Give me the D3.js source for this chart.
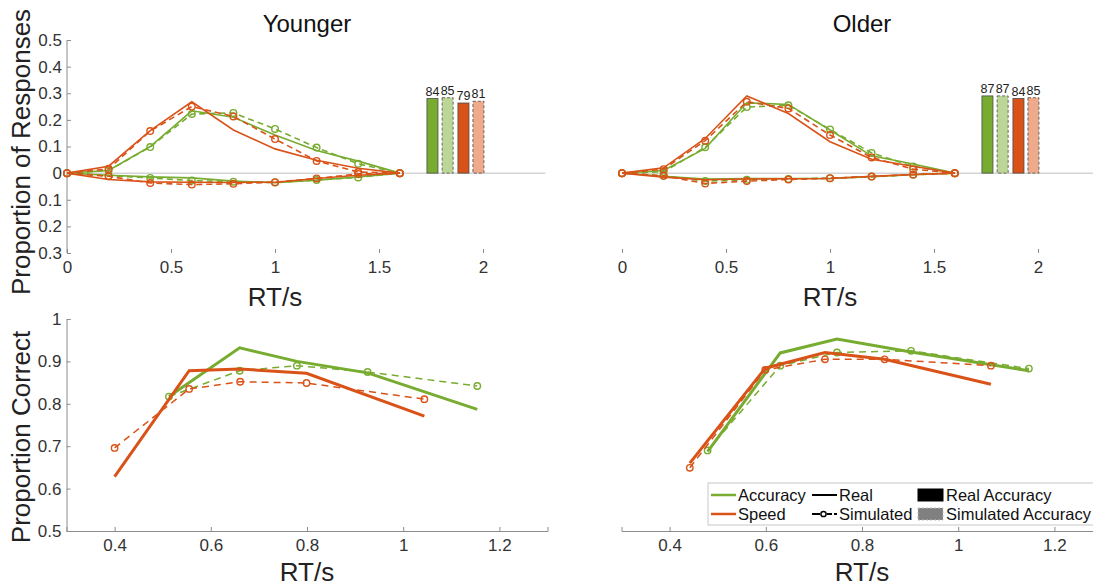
<!DOCTYPE html>
<html><head><meta charset="utf-8">
<script src="https://cdn.jsdelivr.net/npm/d3@7"></script>
<style>body{margin:0;background:#fff}svg{display:block}text{font-family:"Liberation Sans",Arial,sans-serif}</style>
</head><body><svg id="c" width="1093" height="586"></svg>
<script>
// ---------- DATA ----------
const groups = ["Younger", "Older"];
const rtBins = [0, 0.2, 0.4, 0.6, 0.8, 1.0, 1.2, 1.4, 1.6];
// Younger: RT distributions (correct positive, error negative)
const yAccRealCorr = [0, 0.01, 0.10, 0.234, 0.21, 0.143, 0.085, 0.045, 0];
const yAccSimCorr  = [0, 0.01, 0.098, 0.222, 0.226, 0.166, 0.096, 0.035, 0];
const ySpdRealCorr = [0, 0.026, 0.16, 0.268, 0.162, 0.091, 0.048, 0.018, 0];
const ySpdSimCorr  = [0, 0.016, 0.158, 0.25, 0.213, 0.128, 0.046, 0.004, 0];
const yAccRealErr  = [0, -0.008, -0.014, -0.018, -0.03, -0.036, -0.027, -0.014, 0];
const yAccSimErr   = [0, -0.01, -0.018, -0.028, -0.032, -0.035, -0.026, -0.016, 0];
const ySpdRealErr  = [0, -0.024, -0.033, -0.034, -0.035, -0.034, -0.02, -0.008, 0];
const ySpdSimErr   = [0, -0.012, -0.037, -0.043, -0.04, -0.034, -0.02, -0.003, 0];
// Older
const oAccRealCorr = [0, 0.01, 0.093, 0.264, 0.258, 0.162, 0.065, 0.034, 0];
const oAccSimCorr  = [0, 0.005, 0.097, 0.248, 0.255, 0.164, 0.076, 0.025, 0];
const oSpdRealCorr = [0, 0.02, 0.13, 0.29, 0.224, 0.118, 0.052, 0.026, 0];
const oSpdSimCorr  = [0, 0.015, 0.122, 0.268, 0.243, 0.143, 0.059, 0.015, 0];
const oAccRealErr  = [0, -0.012, -0.022, -0.02, -0.02, -0.02, -0.013, -0.006, 0];
const oAccSimErr   = [0, -0.01, -0.03, -0.025, -0.022, -0.019, -0.013, -0.006, 0];
const oSpdRealErr  = [0, -0.015, -0.025, -0.022, -0.021, -0.02, -0.012, -0.005, 0];
const oSpdSimErr   = [0, -0.01, -0.039, -0.03, -0.024, -0.019, -0.013, -0.005, 0];
// Accuracy bars (%): Real Acc, Sim Acc, Real Speed, Sim Speed
const barLabels = ["Accuracy real", "Accuracy simulated", "Speed real", "Speed simulated"];
const yBarPct = [84, 85, 79, 81];
const oBarPct = [87, 87, 84, 85];
// Conditional accuracy functions
const yAccCafX    = [0.513, 0.660, 0.779, 0.926, 1.154];
const yAccCafReal = [0.817, 0.932, 0.90, 0.873, 0.787];
const yAccCafSim  = [0.817, 0.878, 0.89, 0.875, 0.842];
const ySpdCafX    = [0.40, 0.555, 0.661, 0.799, 1.044];
const ySpdCafReal = [0.628, 0.878, 0.882, 0.872, 0.771];
const ySpdCafSim  = [0.696, 0.835, 0.852, 0.849, 0.811];
const oAccCafX    = [0.479, 0.63, 0.748, 0.902, 1.147];
const oAccCafReal = [0.687, 0.92, 0.953, 0.922, 0.878];
const oAccCafSim  = [0.69, 0.89, 0.921, 0.925, 0.883];
const oSpdCafX    = [0.442, 0.599, 0.723, 0.847, 1.068];
const oSpdCafReal = [0.66, 0.884, 0.921, 0.905, 0.846];
const oSpdCafSim  = [0.649, 0.88, 0.905, 0.905, 0.89];
const topXTicks = [0, 0.5, 1, 1.5, 2];
const topYTicks = [-0.3, -0.2, -0.1, 0, 0.1, 0.2, 0.3, 0.4, 0.5];
const botXTicks = [0.4, 0.6, 0.8, 1.0, 1.2];
const botYTicks = [0.5, 0.6, 0.7, 0.8, 0.9, 1.0];

// ---------- STYLE ----------
const GREEN = "#77AC30", ORANGE = "#D95319", LGREEN = "#bcd697", LORANGE = "#eeab8c";
const AX = "#8c8c8c", TXT = "#333";
const svg = d3.select("#c");

const topData = [
  {acc:[yAccRealCorr,yAccSimCorr,yAccRealErr,yAccSimErr], spd:[ySpdRealCorr,ySpdSimCorr,ySpdRealErr,ySpdSimErr], bars:yBarPct},
  {acc:[oAccRealCorr,oAccSimCorr,oAccRealErr,oAccSimErr], spd:[oSpdRealCorr,oSpdSimCorr,oSpdRealErr,oSpdSimErr], bars:oBarPct}
];
const botData = [
  {acc:[yAccCafX,yAccCafReal,yAccCafSim], spd:[ySpdCafX,ySpdCafReal,ySpdCafSim]},
  {acc:[oAccCafX,oAccCafReal,oAccCafSim], spd:[oSpdCafX,oSpdCafReal,oSpdCafSim]}
];
const panelLeft = [67, 622];

function styleAxis(g){
  g.selectAll(".domain").attr("stroke", AX).attr("stroke-width", 1);
  g.selectAll(".tick line").attr("stroke", AX);
  g.selectAll(".tick text").attr("fill", TXT).style("font-size", "17px").style("font-family", "Liberation Sans, Arial, sans-serif");
}

groups.forEach((name, gi) => {
  const L = panelLeft[gi];
  // ----- top panel -----
  const x = d3.scaleLinear().domain([0, 2.3]).range([L, L + 2.3 * 208]);
  const y = d3.scaleLinear().domain([-0.3, 0.5]).range([253, 40]);
  const T = topData[gi];
  svg.append("line").attr("x1", x(0)).attr("x2", x(2.3)).attr("y1", y(0)).attr("y2", y(0))
    .attr("stroke", "#d4d4d4").attr("stroke-width", 1.5);
  const gx = svg.append("g").attr("transform", `translate(0,${y(-0.3)})`)
    .call(d3.axisBottom(x).tickValues(topXTicks).tickSize(-4).tickPadding(8).tickFormat(d3.format("")));
  gx.select(".domain").remove();
  styleAxis(gx);
  if (gi === 0) {
    const gy = svg.append("g").attr("transform", `translate(${x(0)},0)`)
      .call(d3.axisLeft(y).tickValues(topYTicks).tickSize(-4).tickPadding(5)
        .tickFormat(d => d === 0 ? "0" : Math.abs(d).toFixed(1)));
    gy.select(".domain").attr("d", `M0,${y(-0.3)}V${y(0.5)}`);
    styleAxis(gy);
  }
  const barX = [1.757, 1.83, 1.906, 1.978];
  const barW = 0.053;
  const fills = [GREEN, LGREEN, ORANGE, LORANGE];
  T.bars.forEach((v, i) => {
    const val = v / 300;
    svg.append("rect").attr("x", x(barX[i] - barW / 2)).attr("width", x(barW) - x(0))
      .attr("y", y(val)).attr("height", y(0) - y(val))
      .attr("fill", fills[i]).attr("stroke", "#4a4a4a").attr("stroke-width", 0.8)
      .attr("stroke-dasharray", i % 2 ? "3,2" : null);
    svg.append("text").attr("x", x(barX[i])).attr("y", y(val) - 3).attr("text-anchor", "middle")
      .attr("fill", "#222").style("font-size", "12.5px").text(v);
  });
  const line = d3.line().x((d, i) => x(rtBins[i])).y(d => y(d));
  [[T.acc, GREEN], [T.spd, ORANGE]].forEach(([arrs, col]) => {
    [0, 2].forEach(k => {
      svg.append("path").attr("d", line(arrs[k])).attr("fill", "none").attr("stroke", col).attr("stroke-width", 1.6);
    });
    [1, 3].forEach(k => {
      svg.append("path").attr("d", line(arrs[k])).attr("fill", "none").attr("stroke", col)
        .attr("stroke-width", 1.6).attr("stroke-dasharray", "6,4");
      svg.selectAll(null).data(arrs[k]).enter().append("circle")
        .attr("cx", (d, i) => x(rtBins[i])).attr("cy", d => y(d)).attr("r", 3.3)
        .attr("fill", "none").attr("stroke", col).attr("stroke-width", 1.4);
    });
  });
  svg.append("text").attr("x", (gi === 0 ? 307 : 862)).attr("y", 32).attr("text-anchor", "middle")
    .attr("fill", "#111").style("font-size", "24px").text(name);
  svg.append("text").attr("x", x(1)).attr("y", 306).attr("text-anchor", "middle")
    .attr("fill", "#222").style("font-size", "26px").text("RT/s");

  // ----- bottom panel -----
  const bx = d3.scaleLinear().domain([0.3, 1.3]).range([L - 0.5, L - 0.5 + 481]);
  const by = d3.scaleLinear().domain([0.5, 1]).range([531, 319]);
  const B = botData[gi];
  const gbx = svg.append("g").attr("transform", `translate(0,${by(0.5)})`)
    .call(d3.axisBottom(bx).tickValues(botXTicks).tickSize(-4).tickPadding(8).tickFormat(d3.format("")));
  styleAxis(gbx);
  if (gi === 0) {
    const gby = svg.append("g").attr("transform", `translate(${bx(0.3)},0)`)
      .call(d3.axisLeft(by).tickValues(botYTicks).tickSize(-4).tickPadding(5).tickFormat(d3.format("")));
    styleAxis(gby);
  }
  const bline = xs => d3.line().x((d, i) => bx(xs[i])).y(d => by(d));
  [[B.acc, GREEN], [B.spd, ORANGE]].forEach(([a, col]) => {
    svg.append("path").attr("d", bline(a[0])(a[1])).attr("fill", "none").attr("stroke", col).attr("stroke-width", 3);
    svg.append("path").attr("d", bline(a[0])(a[2])).attr("fill", "none").attr("stroke", col)
      .attr("stroke-width", 1.5).attr("stroke-dasharray", "7,5");
    svg.selectAll(null).data(a[2]).enter().append("circle")
      .attr("cx", (d, i) => bx(a[0][i])).attr("cy", d => by(d)).attr("r", 3.2)
      .attr("fill", "none").attr("stroke", col).attr("stroke-width", 1.4);
  });
  svg.append("text").attr("x", bx(0.8)).attr("y", 581).attr("text-anchor", "middle")
    .attr("fill", "#222").style("font-size", "26px").text("RT/s");
});

svg.append("text").attr("transform", "translate(30,152) rotate(-90)").attr("text-anchor", "middle")
  .attr("fill", "#222").style("font-size", "26px").text("Proportion of Responses");
svg.append("text").attr("transform", "translate(30,437) rotate(-90)").attr("text-anchor", "middle")
  .attr("fill", "#222").style("font-size", "26px").text("Proportion Correct");

// legend
const lg = svg.append("g");
lg.append("rect").attr("x", 708).attr("y", 483).attr("width", 400).attr("height", 42)
  .attr("fill", "#fff").attr("stroke", "#c8c8c8").attr("stroke-width", 1);
const legendRows = [
  [{t:"Accuracy", c:GREEN}, {t:"Real", c:"#000"}, {t:"Real Accuracy"}],
  [{t:"Speed", c:ORANGE}, {t:"Simulated", c:"#000", sim:true}, {t:"Simulated Accuracy", sim:true}]
];
const fs = "16.5px";
legendRows.forEach((row, r) => {
  const yy = 495 + r * 19;
  lg.append("line").attr("x1", 711).attr("x2", 736).attr("y1", yy).attr("y2", yy).attr("stroke", row[0].c).attr("stroke-width", 2.5);
  lg.append("text").attr("x", 738).attr("y", yy + 6).style("font-size", fs).attr("fill", "#111").text(row[0].t);
  if (!row[1].sim) {
    lg.append("line").attr("x1", 812).attr("x2", 837).attr("y1", yy).attr("y2", yy).attr("stroke", "#000").attr("stroke-width", 2);
  } else {
    lg.append("line").attr("x1", 812).attr("x2", 820).attr("y1", yy).attr("y2", yy).attr("stroke", "#000").attr("stroke-width", 2);
    lg.append("line").attr("x1", 827).attr("x2", 832).attr("y1", yy).attr("y2", yy).attr("stroke", "#000").attr("stroke-width", 2);
    lg.append("line").attr("x1", 834).attr("x2", 837).attr("y1", yy).attr("y2", yy).attr("stroke", "#000").attr("stroke-width", 2);
    lg.append("circle").attr("cx", 823.5).attr("cy", yy).attr("r", 2.6).attr("fill", "none").attr("stroke", "#000").attr("stroke-width", 1.5);
  }
  lg.append("text").attr("x", 839).attr("y", yy + 6).style("font-size", fs).attr("fill", "#111").text(row[1].t);
  lg.append("rect").attr("x", 918).attr("y", yy - 6).attr("width", 25).attr("height", 12)
    .attr("fill", row[2].sim ? "#808080" : "#000").attr("stroke", row[2].sim ? "#bbb" : "#000")
    .attr("stroke-dasharray", row[2].sim ? "2,2" : null);
  lg.append("text").attr("x", 946).attr("y", yy + 6).style("font-size", fs).attr("fill", "#111").text(row[2].t);
});
</script></body></html>
